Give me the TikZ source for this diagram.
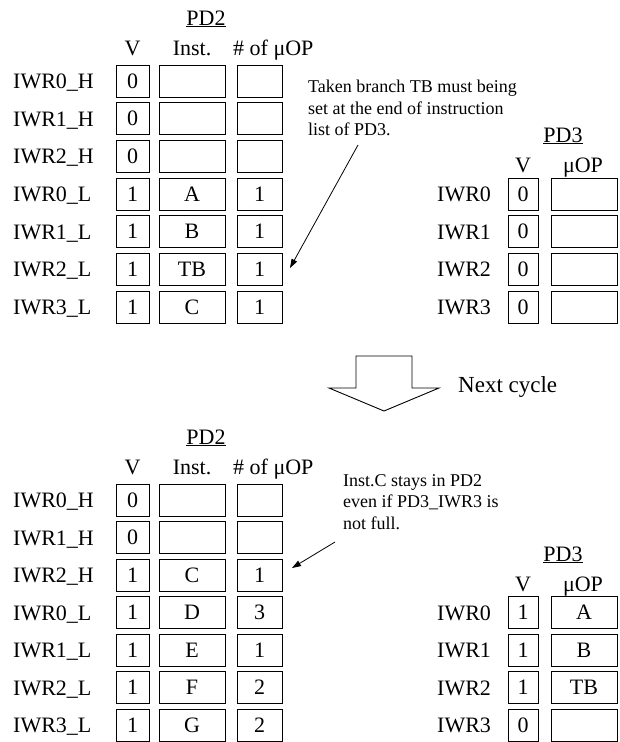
\documentclass[tikz,border=0pt]{standalone}
\usepackage{fontspec}
\setmainfont{Liberation Serif}
\usetikzlibrary{arrows.meta}
\begin{document}
\begin{tikzpicture}[x=1pt,y=-1pt,
 big/.style={font=\fontsize{22}{26}\selectfont},
 cell/.style={draw,line width=0.9pt,minimum height=32pt,inner sep=0pt,big},
 vcell/.style={cell,minimum width=33pt},
 icell/.style={cell,minimum width=66pt},
 ncell/.style={cell,minimum width=45pt},
 pvcell/.style={cell,minimum width=30pt},
 pucell/.style={cell,minimum width=66pt},
 lbl/.style={anchor=base west,inner sep=0pt,big},
 hdr/.style={anchor=base,inner sep=0pt,big},
 note/.style={anchor=north west,align=left,inner sep=0pt,font=\fontsize{18}{21.5}\selectfont},
 ptr/.style={-{Triangle[length=9pt,width=6pt]},line width=0.8pt}]
\useasboundingbox (0,0) rectangle (619,742);

% ---------- top PD2 ----------
\node[hdr] (pdtwoA) at (206,25) {\underline{PD2}};
\node[hdr] (hvA) at (132.5,55) {V};
\node[hdr] (hiA) at (192,55) {Inst.};
\node[lbl] (hnA) at (233,55) {\# of μOP};
\foreach \i/\lab/\v/\ins/\n in {0/IWR0\_H/0/{}/{},1/IWR1\_H/0/{}/{},2/IWR2\_H/0/{}/{},3/IWR0\_L/1/A/1,4/IWR1\_L/1/B/1,5/IWR2\_L/1/TB/1,6/IWR3\_L/1/C/1}{
  \pgfmathsetmacro{\yy}{81+37.67*\i}
  \node[lbl] (tl\i) at (13,\yy+7.5) {\lab};
  \node[vcell] (tv\i) at (132.5,\yy) {\v};
  \node[icell] (ti\i) at (192,\yy) {\ins};
  \node[ncell] (tn\i) at (259.5,\yy) {\n};
}

% ---------- top PD3 ----------
\node[hdr] (pdthreeA) at (563,142) {\underline{PD3}};
\node[hdr] (qvA) at (523,172) {V};
\node[hdr] (quA) at (583,172) {μOP};
\foreach \i in {0,1,2,3}{
  \pgfmathsetmacro{\yy}{194+37.67*\i}
  \node[lbl] (ul\i) at (437,\yy+7.5) {IWR\i};
  \node[pvcell] (uv\i) at (523,\yy) {0};
  \node[pucell] (uu\i) at (584,\yy) {};
}

\node[note] (noteA) at (308,80) {Taken branch TB must being\\set at the end of instruction\\list of PD3.};
\coordinate (aAs) at (358,145);
\coordinate (aAe) at (290,268);
\draw[ptr] (aAs) -- (aAe);

% ---------- next cycle arrow ----------
\draw[line width=0.9pt,line join=miter] (356,356) -- (412,356) -- (412,388) -- (439,388) -- (384,411) -- (329,388) -- (356,388) -- cycle;
\node[lbl,font=\fontsize{23}{27}\selectfont] (next) at (458,392) {Next cycle};

% ---------- bottom PD2 ----------
\node[hdr] (pdtwoB) at (206,444) {\underline{PD2}};
\node[hdr] (hvB) at (132.5,474) {V};
\node[hdr] (hiB) at (192,474) {Inst.};
\node[lbl] (hnB) at (233,474) {\# of μOP};
\foreach \i/\lab/\v/\ins/\n in {0/IWR0\_H/0/{}/{},1/IWR1\_H/0/{}/{},2/IWR2\_H/1/C/1,3/IWR0\_L/1/D/3,4/IWR1\_L/1/E/1,5/IWR2\_L/1/F/2,6/IWR3\_L/1/G/2}{
  \pgfmathsetmacro{\yy}{500+37.5*\i}
  \node[lbl] (bl\i) at (13,\yy+7.5) {\lab};
  \node[vcell] (bv\i) at (132.5,\yy) {\v};
  \node[icell] (bi\i) at (192,\yy) {\ins};
  \node[ncell] (bn\i) at (259.5,\yy) {\n};
}

% ---------- bottom PD3 ----------
\node[hdr] (pdthreeB) at (563,561) {\underline{PD3}};
\node[hdr] (qvB) at (523,591) {V};
\node[hdr] (quB) at (583,591) {μOP};
\foreach \i/\v/\u in {0/1/A,1/1/B,2/1/TB,3/0/{}}{
  \pgfmathsetmacro{\yy}{612.5+37.5*\i}
  \node[lbl] (wl\i) at (437,\yy+7.5) {IWR\i};
  \node[pvcell] (wv\i) at (523,\yy) {\v};
  \node[pucell] (wu\i) at (584,\yy) {\u};
}

\node[note] (noteB) at (343,474) {Inst.C stays in PD2\\even if PD3\_IWR3 is\\not full.};
\coordinate (aBs) at (335,542);
\coordinate (aBe) at (292,568);
\draw[ptr] (aBs) -- (aBe);
\end{tikzpicture}
\end{document}
